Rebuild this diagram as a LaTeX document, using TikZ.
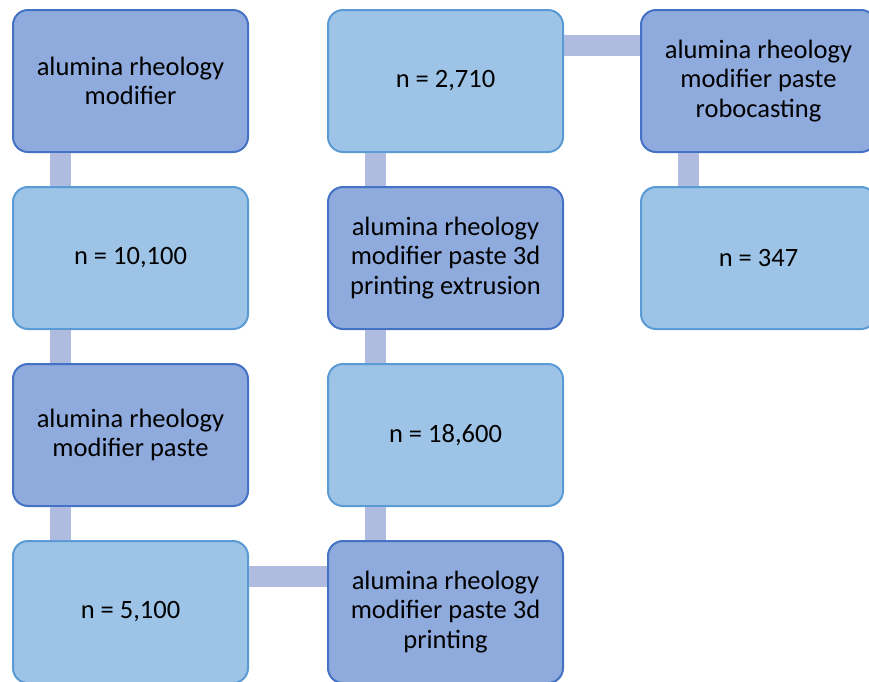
\documentclass[tikz,border=0pt]{standalone}
\usepackage{fontspec}
\setmainfont{Carlito}
\usetikzlibrary{positioning}
\definecolor{darkfill}{HTML}{8FAADC}
\definecolor{darkline}{HTML}{4472C4}
\definecolor{lightfill}{HTML}{9DC3E6}
\definecolor{lightline}{HTML}{5B9BD5}
\definecolor{linkcol}{HTML}{B0BCDF}
\begin{document}
\begin{tikzpicture}[x=1pt,y=1pt,
	box/.style={rounded corners=15pt,line width=2pt,minimum width=235pt,minimum height=142pt,
		align=center,inner sep=0pt,font=\fontsize{26.5}{29.5}\selectfont},
	termbox/.style={box,fill=darkfill,draw=darkline},
	countbox/.style={box,fill=lightfill,draw=lightline},
	link/.style={linkcol,line width=21pt}]
	\clip (0,0) rectangle (869,-681);
	\node[termbox] (t1) at (130.5,-81) {alumina rheology\\modifier};
	\node[countbox] (c1) at (130.5,-258) {n = 10,100};
	\node[termbox] (t2) at (130.5,-435) {alumina rheology\\modifier paste};
	\node[countbox] (c2) at (130.5,-612) {n = 5,100};
	\node[termbox] (t3) at (445.5,-612) {alumina rheology\\modifier paste 3d\\printing};
	\node[countbox] (c3) at (445.5,-435) {n = 18,600};
	\node[termbox] (t4) at (445.5,-258) {alumina rheology\\modifier paste 3d\\printing extrusion};
	\node[countbox] (c4) at (445.5,-81) {n = 2,710};
	\node[termbox] (t5) at (758.5,-81) {alumina rheology\\modifier paste\\robocasting};
	\node[countbox] (c5) at (758.5,-258) {n = 347};
	% links between the boxes
	\draw[link] ([xshift=-70pt]t1.south) -- ([xshift=-70pt]c1.north);
	\draw[link] ([xshift=-70pt]c1.south) -- ([xshift=-70pt]t2.north);
	\draw[link] ([xshift=-70pt]t2.south) -- ([xshift=-70pt]c2.north);
	\draw[link] ([yshift=36pt]c2.east) -- ([yshift=36pt]t3.west);
	\draw[link] ([xshift=-70pt]t3.north) -- ([xshift=-70pt]c3.south);
	\draw[link] ([xshift=-70pt]c3.north) -- ([xshift=-70pt]t4.south);
	\draw[link] ([xshift=-70pt]t4.north) -- ([xshift=-70pt]c4.south);
	\draw[link] ([yshift=36pt]c4.east) -- ([yshift=36pt]t5.west);
	\draw[link] ([xshift=-70pt]t5.south) -- ([xshift=-70pt]c5.north);
\end{tikzpicture}
\end{document}
